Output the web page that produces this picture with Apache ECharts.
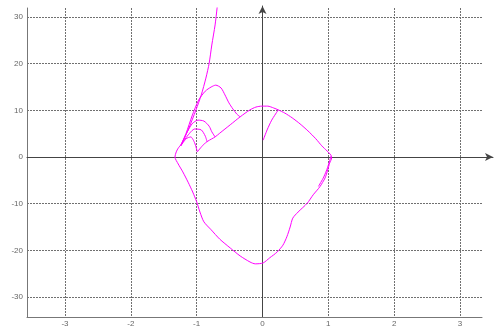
<!DOCTYPE html>
<html>
<head>
<meta charset="utf-8">
<script src="https://cdn.jsdelivr.net/npm/echarts@6/dist/echarts.min.js"></script>
<style>
  html, body { margin: 0; padding: 0; background: #ffffff; }
  #chart { width: 499px; height: 329px; }
</style>
</head>
<body>
<div id="chart"></div>
<script>
// Closed outer contour of the trajectory
const mainLoop = [
  [-0.99, 1.1], [-0.90, 2.6], [-0.83, 3.4], [-0.72, 4.3], [-0.65, 5.1], [-0.49, 6.9],
  [-0.34, 8.6], [-0.19, 10.1], [-0.10, 10.7], [-0.01, 10.9], [0.08, 10.9], [0.17, 10.5],
  [0.24, 10.1], [0.34, 9.4], [0.45, 8.4], [0.57, 7.1], [0.69, 5.6], [0.81, 3.9],
  [0.90, 2.4], [0.98, 1.3], [1.04, 0.4], [1.05, -0.2], [1.02, -1.3], [0.99, -2.8],
  [0.95, -4.5], [0.87, -6.4], [0.77, -8.1], [0.68, -9.9], [0.54, -11.8], [0.46, -13.1],
  [0.42, -15.0], [0.37, -17.1], [0.31, -18.9], [0.22, -20.4], [0.11, -21.6], [0.01, -22.7],
  [-0.11, -22.9], [-0.19, -22.5], [-0.34, -21.2], [-0.49, -19.5], [-0.65, -17.6], [-0.78, -15.6],
  [-0.89, -13.9], [-0.95, -11.8], [-1.00, -9.6], [-1.06, -7.5], [-1.13, -5.4], [-1.21, -3.2],
  [-1.28, -1.5], [-1.33, 0.0], [-1.31, 1.1], [-1.28, 1.9], [-1.24, 2.6]
];
// Branch escaping towards the top edge
const tailLine = [
  [-1.24, 2.4], [-1.13, 5.8], [-1.01, 10.1], [-0.93, 13.3], [-0.86, 16.9],
  [-0.81, 20.1], [-0.77, 24.0], [-0.72, 28.3], [-0.69, 31.9], [-0.67, 34.5]
];
// Nested loops leaving the cusp on the left
const loopLarge = [
  [-1.24, 2.4], [-1.16, 5.1], [-1.07, 8.8], [-0.97, 12.2], [-0.87, 14.1], [-0.78, 15.0],
  [-0.71, 15.4], [-0.63, 14.8], [-0.57, 13.3], [-0.51, 11.6], [-0.45, 10.3], [-0.39, 9.2], [-0.34, 8.6]
];
const loopMid = [
  [-1.24, 2.6], [-1.16, 4.9], [-1.07, 7.1], [-0.98, 7.9], [-0.89, 7.7], [-0.81, 6.6], [-0.77, 5.4], [-0.72, 4.3]
];
const loopSmall = [
  [-1.24, 2.6], [-1.13, 4.7], [-1.03, 6.0], [-0.93, 5.8], [-0.87, 4.5], [-0.84, 3.2]
];
const loopTiny = [
  [-1.24, 2.4], [-1.16, 3.9], [-1.09, 4.3], [-1.03, 3.0], [-0.99, 1.1]
];
// Short spur near the origin and the doubled stroke on the right flank
const centreSpur = [[0.01, 3.6], [0.07, 5.8], [0.14, 7.9], [0.24, 10.1]];
const rightTrace = [[1.04, 0.2], [0.99, -2.2], [0.93, -4.3], [0.85, -6.3]];

// Axis extents
const X_MIN = -3.577, X_MAX = 3.334, X_ARROW = 3.501;
const Y_MIN = -34.29, Y_MAX = 31.93, Y_ARROW = 32.36;

const curveColor = '#ff00ff';
const traces = [mainLoop, tailLine, loopLarge, loopMid, loopSmall, loopTiny, centreSpur, rightTrace];

const chart = echarts.init(document.getElementById('chart'), null, { renderer: 'canvas' });

const labelStyle = { color: '#666', fontSize: 8, fontFamily: 'Liberation Sans, Arial, sans-serif' };
const gridLine = { show: true, showMinLine: false, showMaxLine: false,
  lineStyle: { color: '#707070', width: 1, type: [2, 1] } };

chart.setOption({
  animation: false,
  backgroundColor: '#ffffff',
  grid: [
    { left: 27, right: 17, top: 8, bottom: 12, containLabel: false },
    { left: 27, right: 6, top: 6, bottom: 12, containLabel: false }
  ],
  xAxis: [
    {
      gridIndex: 0, type: 'value', min: X_MIN, max: X_MAX, splitNumber: 7,
      position: 'bottom',
      axisLine: { show: true, onZero: false, lineStyle: { color: '#777', width: 1 } },
      axisTick: { show: false },
      axisLabel: { ...labelStyle, margin: 3, showMinLabel: false, showMaxLabel: false,
        formatter: v => (Number.isInteger(v) ? String(v) : '') },
      splitLine: gridLine
    },
    {
      gridIndex: 1, type: 'value', min: X_MIN, max: X_ARROW,
      axisLine: { show: true, onZero: true, onZeroAxisIndex: 1,
        symbol: ['none', 'arrow'], symbolSize: [6, 8],
        lineStyle: { color: '#444', width: 1 } },
      axisTick: { show: false }, axisLabel: { show: false }, splitLine: { show: false }
    }
  ],
  yAxis: [
    {
      gridIndex: 0, type: 'value', min: Y_MIN, max: Y_MAX, splitNumber: 7,
      position: 'left',
      axisLine: { show: true, onZero: false, lineStyle: { color: '#777', width: 1 } },
      axisTick: { show: false },
      axisLabel: { ...labelStyle, margin: 4, showMinLabel: false, showMaxLabel: false,
        formatter: v => (Number.isInteger(v) ? String(v) : '') },
      splitLine: gridLine
    },
    {
      gridIndex: 1, type: 'value', min: Y_MIN, max: Y_ARROW,
      axisLine: { show: true, onZero: true, onZeroAxisIndex: 1,
        symbol: ['none', 'arrow'], symbolSize: [6, 8],
        lineStyle: { color: '#444', width: 1 } },
      axisTick: { show: false }, axisLabel: { show: false }, splitLine: { show: false }
    }
  ],
  series: traces.map(pts => ({
    type: 'line',
    xAxisIndex: 0, yAxisIndex: 0,
    data: pts,
    showSymbol: false,
    smooth: 0.25,
    clip: true,
    silent: true,
    z: 5,
    lineStyle: { color: curveColor, width: 1 }
  }))
});
</script>
</body>
</html>
